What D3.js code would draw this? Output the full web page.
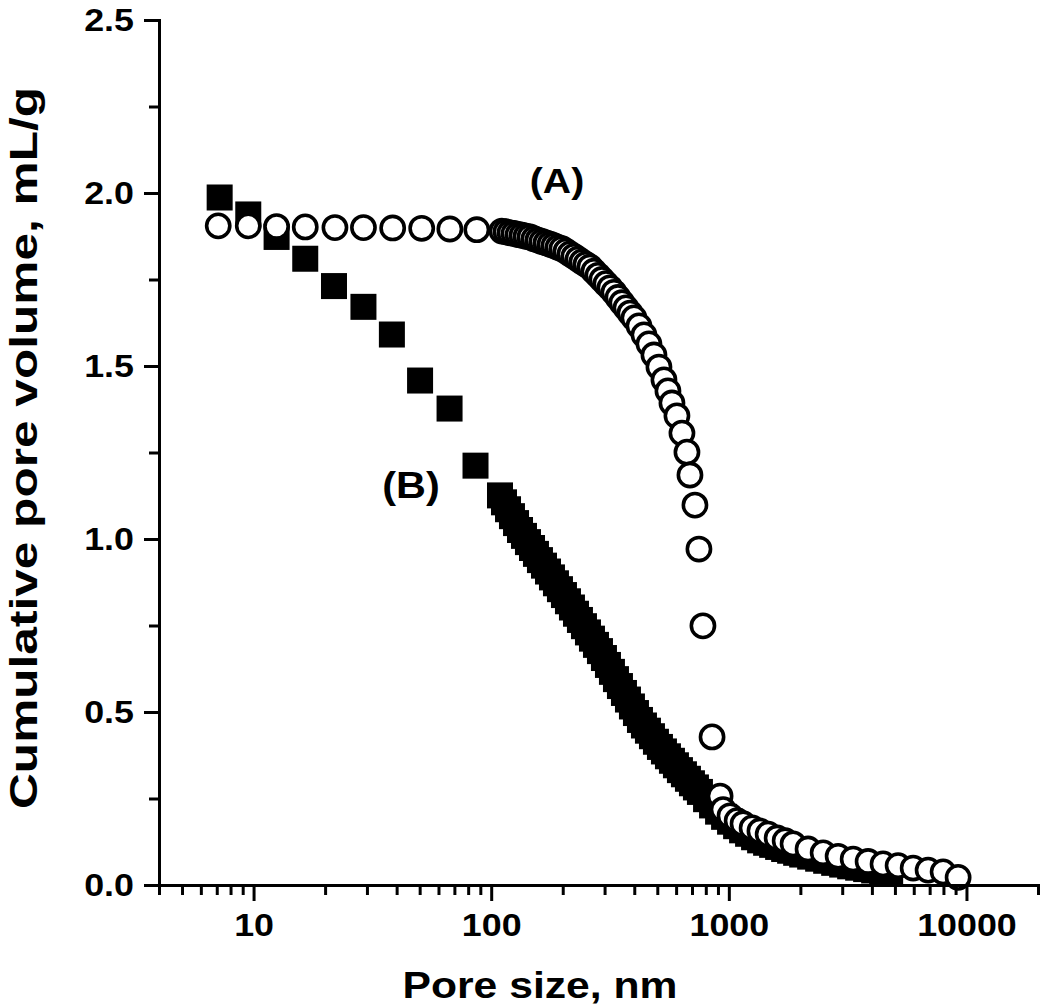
<!DOCTYPE html>
<html><head><meta charset="utf-8">
<script src="https://cdn.jsdelivr.net/npm/d3@7"></script>
<style>
body{margin:0;background:#fff}
svg{display:block}
text{font-family:Arial,"Liberation Sans",Helvetica,sans-serif;font-weight:bold;fill:#000}
</style>
</head><body>
<svg id="chart" width="1050" height="1008"></svg>
<script>
// ---- axis ticks ----
const xMajorTicks = [10, 100, 1000, 10000];
const xMinorTicks = [4,5,6,7,8,9,20,30,40,50,60,70,80,90,200,300,400,500,600,700,800,900,2000,3000,4000,5000,6000,7000,8000,9000,20000];
const yMajorTicks = [0, 0.5, 1.0, 1.5, 2.0, 2.5];
const yMinorTicks = [0.25, 0.75, 1.25, 1.75, 2.25];
const xTitle = "Pore size, nm";
const yTitle = "Cumulative pore volume, mL/g";
const seriesNames = ["(A)", "(B)"];

// ---- series A (open circles) ----
const sizeA = [7.1,9.5,12.5,16.5,22,29,38.5,51,67,87,
 111,115.4,120,124.7,129.7,134.8,140.1,145.6,151.4,157.3,163.5,170.1,176.8,183.7,191,198.5,206.4,214.5,223,231.9,
 240.9,250.5,260.4,270.7,281.4,292.5,304,316.1,328.5,341.6,355,369.1,383.7,398.8,418.6,439.4,461.1,484.1,508.1,533.3,
 554.4,576.3,604.8,634.9,666.4,686.1,720.1,748.5,778.1,850,918.7,
 946,1012,1084,1148,1253,1352,1464,1597,1726,1864,2155,2494,2884,3336,3856,4457,5157,5966,6896,7975,9223];
const volA = [1.905,1.905,1.903,1.902,1.900,1.900,1.899,1.898,1.896,1.894,
 1.890,1.888,1.885,1.883,1.880,1.878,1.875,1.873,1.868,1.864,1.860,1.856,1.852,1.848,1.843,1.839,1.832,1.824,1.817,1.809,
 1.801,1.794,1.786,1.774,1.762,1.750,1.738,1.726,1.713,1.698,1.683,1.668,1.653,1.639,1.616,1.590,1.564,1.532,1.497,1.460,
 1.428,1.393,1.356,1.306,1.251,1.185,1.098,0.971,0.749,0.428,0.257,
 0.218,0.200,0.186,0.177,0.165,0.156,0.147,0.136,0.128,0.119,0.104,0.093,0.083,0.075,0.068,0.061,0.056,0.049,0.043,0.038,0.022];

// ---- series B (filled squares) ----
const sizeB = [7.2,9.5,12.5,16.5,21.8,29.0,38.2,50.2,66.8,85.9,
 108.9,113.2,117.7,122.3,127.2,132.2,137.4,142.8,148.5,154.3,160.4,166.8,173.4,180.2,187.3,194.7,202.4,210.4,218.7,227.4,
 236.3,245.7,255.4,265.5,276.0,286.9,298.2,310.0,322.2,335.0,348.2,362.0,376.3,391.1,406.6,422.7,439.4,456.7,474.8,493.5,
 513.0,533.3,554.4,576.3,599.0,622.7,647.3,672.9,699.5,727.1,755.8,
 802,850,901,955,1012,1073,1137,1205,1277,1354,1435,1521,1612,1709,1811,1920,2035,2199,2376,2568,2775,2998,3240,3501,3783,4088,4418,4774];
const volB = [1.987,1.938,1.873,1.810,1.731,1.671,1.591,1.458,1.377,1.212,
 1.126,1.106,1.086,1.066,1.046,1.026,1.009,0.991,0.974,0.957,0.939,0.923,0.906,0.889,0.872,0.855,0.838,0.820,0.802,0.784,
 0.766,0.748,0.730,0.712,0.694,0.676,0.656,0.636,0.616,0.595,0.575,0.555,0.536,0.516,0.497,0.477,0.461,0.446,0.430,0.414,
 0.399,0.386,0.372,0.359,0.346,0.332,0.320,0.307,0.294,0.282,0.269,
 0.248,0.230,0.212,0.197,0.183,0.170,0.158,0.148,0.138,0.129,0.122,0.116,0.110,0.104,0.099,0.093,0.088,0.082,0.076,0.070,0.064,0.059,0.054,0.050,0.046,0.042,0.038,0.035];

const svg = d3.select("#chart");
const x = d3.scaleLog().domain([4, 20000]).range([159, 1038]);
const y = d3.scaleLinear().domain([0, 2.5]).range([885, 20]);
const STRETCH = 1.12;
const FONT = 'Arial,"Liberation Sans",Helvetica,sans-serif';

// series B squares (below)
const sq = 26;
const dataB = sizeB.map((s,i)=>({s, v: volB[i]}));
svg.append("g").selectAll("rect").data(dataB).join("rect")
  .attr("x", d => x(d.s) - sq/2).attr("y", d => y(d.v) - sq/2)
  .attr("width", sq).attr("height", sq).attr("fill", "#000");

// series A circles (on top)
const dataA = sizeA.map((s,i)=>({s, v: volA[i]}));
svg.append("g").selectAll("circle").data(dataA).join("circle")
  .attr("cx", d => x(d.s)).attr("cy", d => y(d.v)).attr("r", 11.6)
  .attr("fill", "#fff").attr("stroke", "#000").attr("stroke-width", 3.6);

// axes
const gx = svg.append("g").attr("transform", "translate(0,885)");
gx.call(d3.axisBottom(x).tickValues(xMinorTicks).tickSize(10).tickSizeOuter(0).tickFormat(""));
const gx2 = svg.append("g").attr("transform", "translate(0,885)");
gx2.call(d3.axisBottom(x).tickValues(xMajorTicks).tickSize(16).tickSizeOuter(0).tickPadding(12).tickFormat(d3.format("d")));
gx2.selectAll("text").attr("font-size", 32).attr("transform", `scale(${STRETCH},1)`)
   .style("font-family", FONT).style("font-weight","bold");

const gy = svg.append("g").attr("transform", "translate(159,0)");
gy.call(d3.axisLeft(y).tickValues(yMinorTicks).tickSize(10).tickSizeOuter(0).tickFormat(""));
const gy2 = svg.append("g").attr("transform", "translate(159,0)");
gy2.call(d3.axisLeft(y).tickValues(yMajorTicks).tickSize(15).tickSizeOuter(0).tickFormat(d3.format(".1f")));
gy2.selectAll("text").attr("font-size", 32).attr("x", -25/STRETCH).attr("transform", `scale(${STRETCH},1)`)
   .style("font-family", FONT).style("font-weight","bold");

svg.selectAll(".domain, .tick line").attr("stroke", "#000").attr("stroke-width", 3);
svg.selectAll(".domain").attr("stroke-linecap", "square");

// titles
svg.append("text").attr("x", 540).attr("y", 998).attr("text-anchor", "middle")
  .attr("font-size", 36).attr("textLength", 275).attr("lengthAdjust", "spacingAndGlyphs").text(xTitle);
svg.append("text").attr("transform", "translate(37,448) rotate(-90)").attr("text-anchor", "middle")
  .attr("font-size", 38).attr("textLength", 722).attr("lengthAdjust", "spacingAndGlyphs").text(yTitle);

// series labels
svg.append("text").attr("transform", `translate(557,181) scale(${STRETCH},1)`).attr("text-anchor", "middle")
  .attr("dy", "0.35em").attr("font-size", 35).text(seriesNames[0]);
svg.append("text").attr("transform", `translate(411,485) scale(${STRETCH},1)`).attr("text-anchor", "middle")
  .attr("dy", "0.35em").attr("font-size", 37).text(seriesNames[1]);
</script>
</body></html>
